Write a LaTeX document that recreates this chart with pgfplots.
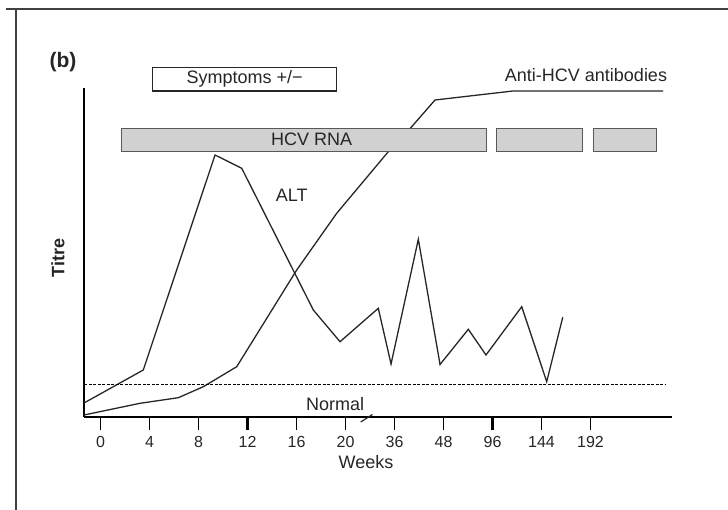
\documentclass[border=0pt]{standalone}
\usepackage{fontspec}
\setmainfont{Liberation Sans}
\usepackage{pgfplots}
\pgfplotsset{compat=1.18}
\begin{document}
\begin{tikzpicture}
\useasboundingbox (0,0) rectangle (728pt,-510pt);
\draw[line width=1.6pt, black!75] (6pt,-9pt) -- (728pt,-9pt);
\draw[line width=1.6pt, black!75] (16pt,-9pt) -- (16pt,-510pt);
\begin{axis}[
 at={(84pt,-417pt)}, anchor=south west,
 scale only axis, width=588pt, height=329pt,
 xmin=-0.337, xmax=11.663, ymin=0, ymax=329,
 axis x line*=bottom, axis y line*=left,
 axis line style={-, line width=2.4pt, black},
 ytick=\empty,
 xtick={0,...,10},
 xticklabels={0,4,8,12,16,20,36,48,96,144,192},
 tick align=outside,
 major tick length=13pt,
 tick style={line width=1pt, black},
 extra x ticks={3,8},
 extra x tick labels={{},{}},
 extra x tick style={tick style={line width=2.6pt, black}},
 tick label style={font=\fontsize{16}{16}\selectfont, text=black!85},
 xticklabel style={yshift=-3pt},
 /pgf/number format/assume math mode=true,
 clip=false,
]
% ALT
\addplot[line width=1.3pt, black!85] coordinates {
(-0.337,14) (0.873,47) (2.337,262) (2.882,248.7) (4.343,107) (4.888,75.3)
(5.669,108.7) (5.929,53) (6.486,177.7) (6.929,52.5) (7.506,87.7) (7.867,62)
(8.596,110.3) (9.106,35.3) (9.433,99.7)};
% Anti-HCV antibodies
\addplot[line width=1.3pt, black!85] coordinates {
(-0.337,2) (0.806,13.7) (1.588,19.3) (2.098,30.3) (2.780,50.3) (4.004,147)
(4.820,203.7) (5.873,265.3) (6.351,290.3) (6.827,317) (8.418,326) (11.480,326)};
% Normal
\addplot[line width=0.8pt, black, dash pattern=on 3pt off 1.5pt] coordinates {(-0.337,33) (11.52,33)};
% HCV RNA bars
\addplot[fill=black!18, draw=black!65, line width=0.9pt] coordinates {(0.418,266) (7.867,266) (7.867,289) (0.418,289)} --cycle;
\addplot[fill=black!18, draw=black!65, line width=0.9pt] coordinates {(8.086,266) (9.841,266) (9.841,289) (8.086,289)} --cycle;
\addplot[fill=black!18, draw=black!65, line width=0.9pt] coordinates {(10.051,266) (11.351,266) (11.351,289) (10.051,289)} --cycle;
% Symptoms box
\addplot[fill=white, draw=black!85, line width=1.1pt] coordinates {(1.065,326) (4.820,326) (4.820,349.7) (1.065,349.7)} --cycle;
% axis break
\draw[line width=1.2pt, black!85] (axis cs:5.31,-5) -- (axis cs:5.55,2.5);
% texts
\node[font=\fontsize{18}{18}\selectfont, text=black!85] at (axis cs:4.310,277.7) {HCV RNA};
\node[font=\fontsize{18}{18}\selectfont, text=black!85] at (axis cs:3.902,222) {ALT};
\node[font=\fontsize{18}{18}\selectfont, text=black!85] at (axis cs:4.786,12.7) {Normal};
\node[font=\fontsize{18}{18}\selectfont, text=black!85] at (axis cs:2.943,337.9) {Symptoms +/−};
\node[font=\fontsize{18}{18}\selectfont, text=black!85] at (axis cs:9.908,342) {Anti-HCV antibodies};
\node[font=\fontsize{21}{21}\selectfont\bfseries, text=black!85] at (axis cs:-0.765,355) {(b)};
\node[font=\fontsize{18}{18}\selectfont\bfseries, text=black!85, rotate=90] at (axis cs:-0.867,159) {Titre};
\node[font=\fontsize{18}{18}\selectfont, text=black!85] at (axis cs:5.418,-45) {Weeks};
\end{axis}
\end{tikzpicture}
\end{document}
